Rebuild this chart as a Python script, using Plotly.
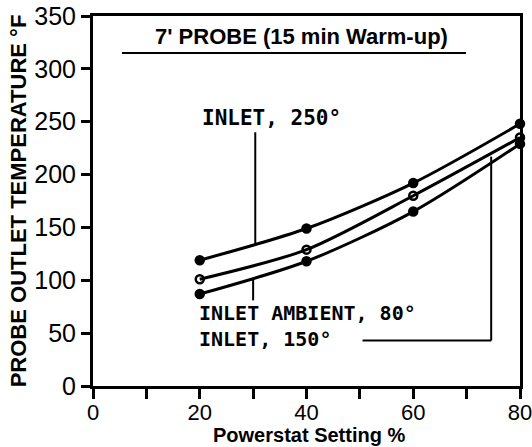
import plotly.graph_objects as go

# Data
powerstat = [20, 40, 60, 80]
inlet_250 = [119, 149, 192, 248]
inlet_150 = [101, 129, 180, 235]
inlet_ambient_80 = [87, 118, 165, 229]

x_ticks = [0, 20, 40, 60, 80]
y_ticks = [0, 50, 100, 150, 200, 250, 300, 350]

title_text = "7' PROBE (15 min Warm-up)"
label_250 = "INLET, 250°"
label_amb = "INLET AMBIENT, 80°"
label_150 = "INLET, 150°"
x_title = "Powerstat Setting %"
y_title = "PROBE OUTLET TEMPERATURE °F"

FONT = "Liberation Sans, Arial, sans-serif"
MONO = "DejaVu Sans Mono, monospace"

L, R, T, B, W, H = 93, 12, 16, 61, 532, 447
PW, PH = W - L - R, H - T - B


def px(xp):
    return (xp - L) / PW


def py(yp):
    return (H - B - yp) / PH


fig = go.Figure()
series = [
    (inlet_250, "circle"),
    (inlet_150, "circle-open"),
    (inlet_ambient_80, "circle"),
]
for ys, sym in series:
    fig.add_trace(go.Scatter(
        x=powerstat, y=ys, mode="lines+markers",
        line=dict(color="black", width=3, shape="spline", smoothing=0.8),
        marker=dict(symbol=sym, size=8, color="black", line=dict(color="black", width=2.5)),
        showlegend=False, hoverinfo="skip", cliponaxis=False,
    ))

# leader lines
shapes = [
    dict(type="line", xref="x", yref="y", x0=30.4, x1=30.4, y0=240, y1=133,
         line=dict(color="black", width=2)),
    dict(type="line", xref="x", yref="y", x0=30, x1=30, y0=81, y1=101,
         line=dict(color="black", width=2)),
    dict(type="line", xref="x", yref="y", x0=50.5, x1=74.6, y0=43, y1=43,
         line=dict(color="black", width=2)),
    dict(type="line", xref="x", yref="y", x0=74.6, x1=74.6, y0=43, y1=217,
         line=dict(color="black", width=2)),
    # title underline
    dict(type="line", xref="paper", yref="paper", x0=px(122), x1=px(466),
         y0=py(53), y1=py(53), line=dict(color="black", width=2)),
]

annotations = [
    dict(text="<b>" + title_text + "</b>", xref="paper", yref="paper", x=px(301), y=py(37),
         showarrow=False, font=dict(family=FONT, size=22, color="black"),
         xanchor="center", yanchor="middle"),
    dict(text="<b>" + label_250 + "</b>", xref="paper", yref="paper", x=px(200), y=py(118),
         showarrow=False, font=dict(family=MONO, size=21, color="black"),
         xanchor="left", yanchor="middle"),
    dict(text="<b>" + label_amb + "</b>", xref="paper", yref="paper", x=px(197), y=py(313),
         showarrow=False, font=dict(family=MONO, size=20, color="black"),
         xanchor="left", yanchor="middle"),
    dict(text="<b>" + label_150 + "</b>", xref="paper", yref="paper", x=px(197), y=py(339),
         showarrow=False, font=dict(family=MONO, size=20, color="black"),
         xanchor="left", yanchor="middle"),
    dict(text="<b>" + x_title + "</b>", xref="paper", yref="paper", x=px(309), y=py(435),
         showarrow=False, font=dict(family=FONT, size=20, color="black"),
         xanchor="center", yanchor="middle"),
]

fig.update_layout(
    width=W, height=H,
    margin=dict(l=L, r=R, t=T, b=B),
    paper_bgcolor="white", plot_bgcolor="white",
    shapes=shapes, annotations=annotations,
    font=dict(family=FONT, color="black"),
)
fig.update_xaxes(
    range=[0, 80], tickvals=x_ticks, ticktext=[str(v) for v in x_ticks],
    ticks="outside", ticklen=10, tickwidth=3, tickcolor="black", ticklabelstandoff=-5,
    minor=dict(tickvals=[10, 30, 50, 70], ticks="outside", ticklen=10, tickwidth=3, tickcolor="black"),
    showline=True, linewidth=3, linecolor="black", mirror=True,
    showgrid=False, zeroline=False, ticklabeloverflow="allow", automargin=False,
    tickfont=dict(family=FONT, size=22, color="black"),
)
fig.update_yaxes(
    range=[0, 350], tickvals=y_ticks, ticktext=[str(v) for v in y_ticks],
    ticks="outside", ticklen=9, tickwidth=3, tickcolor="black",
    showline=True, linewidth=3, linecolor="black", mirror=True,
    showgrid=False, zeroline=False, ticklabeloverflow="allow", automargin=False,
    tickfont=dict(family=FONT, size=25, color="black"),
    title=dict(text="<b>" + y_title + "</b>", font=dict(family=FONT, size=22, color="black"), standoff=2),
)

fig.write_html("out.html")
